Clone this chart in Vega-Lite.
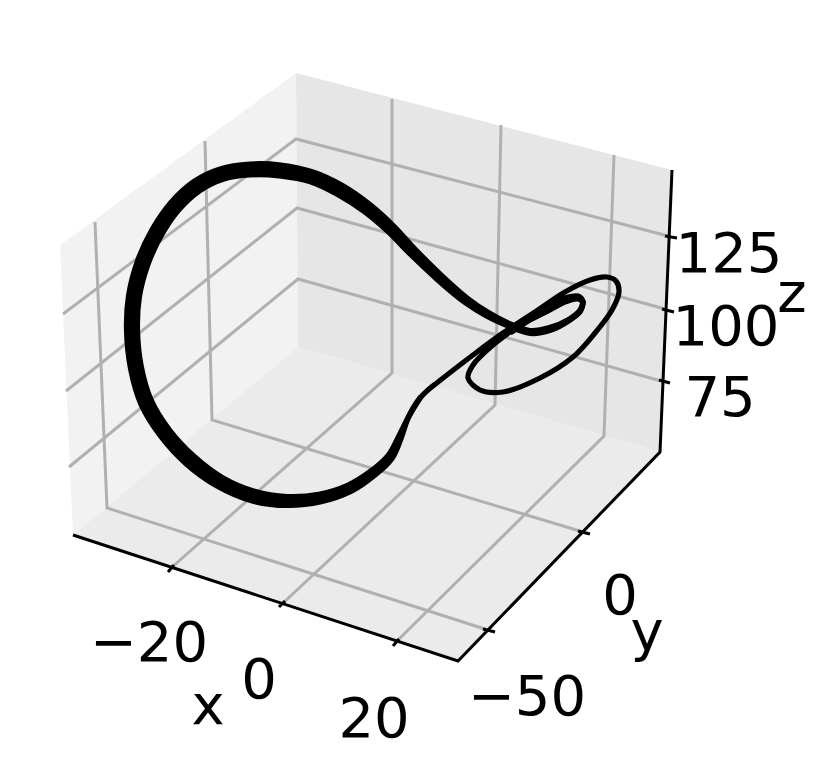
{"$schema":"https://vega.github.io/schema/vega-lite/v6.json","width":830,"height":771,"padding":0,"autosize":"none","background":"white","view":{"stroke":null},
"config":{"font":"DejaVu Sans"},
"encoding":{"x":{"field":"x","type":"quantitative","axis":null,"scale":{"domain":[0,830],"nice":false,"zero":false}},"y":{"field":"y","type":"quantitative","axis":null,"scale":{"domain":[771,0],"nice":false,"zero":false}}},
"datasets":{
"panes":[
{"p":"left","i":0,"x":60,"y":245},{"p":"left","i":1,"x":296,"y":73},{"p":"left","i":2,"x":298,"y":347},{"p":"left","i":3,"x":73,"y":535},{"p":"left","i":4,"x":60,"y":245},
{"p":"right","i":0,"x":296,"y":73},{"p":"right","i":1,"x":672,"y":170},{"p":"right","i":2,"x":660,"y":452},{"p":"right","i":3,"x":298,"y":347},{"p":"right","i":4,"x":296,"y":73},
{"p":"zfloor","i":0,"x":73,"y":535},{"p":"zfloor","i":1,"x":298,"y":347},{"p":"zfloor","i":2,"x":660,"y":452},{"p":"zfloor","i":3,"x":458,"y":661},{"p":"zfloor","i":4,"x":73,"y":535}],
"grid":[
{"g":"x-20","i":0,"x":392,"y":99},{"g":"x-20","i":1,"x":392,"y":373},{"g":"x-20","i":2,"x":171,"y":568},
{"g":"x0","i":0,"x":501,"y":125},{"g":"x0","i":1,"x":495,"y":405},{"g":"x0","i":2,"x":282,"y":604},
{"g":"x20","i":0,"x":614,"y":155},{"g":"x20","i":1,"x":604,"y":436},{"g":"x20","i":2,"x":396,"y":642},
{"g":"y-50","i":0,"x":95,"y":222},{"g":"y-50","i":1,"x":107,"y":508},{"g":"y-50","i":2,"x":488,"y":630},
{"g":"y0","i":0,"x":205,"y":141},{"g":"y0","i":1,"x":212,"y":420},{"g":"y0","i":2,"x":583,"y":532},
{"g":"z125","i":0,"x":63,"y":314},{"g":"z125","i":1,"x":296,"y":139},{"g":"z125","i":2,"x":668,"y":236},
{"g":"z100","i":0,"x":66,"y":391},{"g":"z100","i":1,"x":297,"y":208},{"g":"z100","i":2,"x":665,"y":309},
{"g":"z75","i":0,"x":69,"y":467},{"g":"z75","i":1,"x":298,"y":279},{"g":"z75","i":2,"x":661,"y":381}],
"axes":[
{"g":"xaxis","i":0,"x":73,"y":535},{"g":"xaxis","i":1,"x":458,"y":661},{"g":"xaxis","i":2,"x":660,"y":452},{"g":"xaxis","i":3,"x":672,"y":170},
{"g":"t1","i":0,"x":168,"y":572},{"g":"t1","i":1,"x":174,"y":565},
{"g":"t2","i":0,"x":279,"y":607},{"g":"t2","i":1,"x":285,"y":601},
{"g":"t3","i":0,"x":393,"y":646},{"g":"t3","i":1,"x":399,"y":639},
{"g":"t4","i":0,"x":483,"y":629},{"g":"t4","i":1,"x":495,"y":632},
{"g":"t5","i":0,"x":578,"y":531},{"g":"t5","i":1,"x":590,"y":534},
{"g":"t6","i":0,"x":665,"y":236},{"g":"t6","i":1,"x":677,"y":238},
{"g":"t7","i":0,"x":662,"y":309},{"g":"t7","i":1,"x":674,"y":312},
{"g":"t8","i":0,"x":659,"y":380},{"g":"t8","i":1,"x":670,"y":383}],
"orbits":[
{"g":"c","i":0,"x":517,"y":327},{"g":"c","i":1,"x":545,"y":307},{"g":"c","i":2,"x":565,"y":298},{"g":"c","i":3,"x":578,"y":296},{"g":"c","i":4,"x":583,"y":302},{"g":"c","i":4.5,"x":580,"y":311},
{"g":"c","i":5,"x":569,"y":320},{"g":"c","i":6,"x":550,"y":329},{"g":"c","i":7,"x":530,"y":332},{"g":"c","i":8,"x":507,"y":324},{"g":"c","i":9,"x":487,"y":314},{"g":"c","i":10,"x":467,"y":301},{"g":"c","i":11,"x":440,"y":278},{"g":"c","i":12,"x":413,"y":252},{"g":"c","i":13,"x":390,"y":228},{"g":"c","i":14,"x":367,"y":208},{"g":"c","i":15,"x":340,"y":190},{"g":"c","i":16,"x":312,"y":177},{"g":"c","i":17,"x":280,"y":170.5},{"g":"c","i":18,"x":250,"y":169.5},{"g":"c","i":19,"x":222,"y":174},{"g":"c","i":20,"x":197,"y":186},{"g":"c","i":21,"x":175,"y":206},{"g":"c","i":22,"x":157,"y":232},{"g":"c","i":23,"x":143,"y":262},{"g":"c","i":24,"x":134,"y":296},{"g":"c","i":25,"x":132,"y":330},{"g":"c","i":26,"x":136,"y":368},{"g":"c","i":27,"x":146,"y":402},{"g":"c","i":28,"x":165,"y":433},{"g":"c","i":29,"x":190,"y":460},{"g":"c","i":30,"x":220,"y":482},{"g":"c","i":31,"x":253,"y":496},{"g":"c","i":32,"x":287,"y":501},{"g":"c","i":33,"x":320,"y":498},{"g":"c","i":34,"x":350,"y":488},{"g":"c","i":35,"x":373,"y":473},{"g":"c","i":36,"x":390,"y":457},{"g":"c","i":37,"x":400,"y":437},{"g":"c","i":38,"x":408,"y":418},{"g":"c","i":38.5,"x":413,"y":408},{"g":"c","i":39,"x":420,"y":398},{"g":"c","i":39.5,"x":428,"y":390},{"g":"c","i":40,"x":438,"y":382},{"g":"c","i":41,"x":473,"y":355},{"g":"c","i":42,"x":503,"y":333},{"g":"c","i":43,"x":535,"y":312},{"g":"c","i":44,"x":565,"y":292},{"g":"c","i":45,"x":590,"y":280},{"g":"c","i":46,"x":607,"y":277},{"g":"c","i":47,"x":616,"y":281},{"g":"c","i":48,"x":619,"y":292},{"g":"c","i":49,"x":612,"y":310},{"g":"c","i":50,"x":595,"y":333},{"g":"c","i":51,"x":573,"y":357},{"g":"c","i":52,"x":540,"y":378},{"g":"c","i":53,"x":503,"y":392},{"g":"c","i":54,"x":480,"y":390},{"g":"c","i":55,"x":468,"y":378},{"g":"c","i":56,"x":473,"y":365},{"g":"c","i":57,"x":493,"y":345},{"g":"c","i":58,"x":517,"y":327},
{"g":"o","i":0,"x":583,"y":302},{"g":"o","i":0.5,"x":579.6,"y":310.6},{"g":"o","i":1,"x":568.6,"y":319.4},{"g":"o","i":2,"x":549.4,"y":327.6},{"g":"o","i":3,"x":530,"y":330.5},{"g":"o","i":4,"x":507.6,"y":322.6},{"g":"o","i":5,"x":488.1,"y":312.3},{"g":"o","i":6,"x":468.5,"y":299},{"g":"o","i":7,"x":442.1,"y":275.8},{"g":"o","i":8,"x":415.5,"y":249.5},{"g":"o","i":9,"x":392.8,"y":225.1},{"g":"o","i":10,"x":369.7,"y":204.4},{"g":"o","i":11,"x":342.5,"y":185.6},{"g":"o","i":12,"x":313.8,"y":172.3},{"g":"o","i":13,"x":280.8,"y":165},{"g":"o","i":14,"x":250,"y":164},{"g":"o","i":15,"x":220,"y":168.9},{"g":"o","i":16,"x":193.9,"y":181.4},{"g":"o","i":17,"x":171.1,"y":202.1},{"g":"o","i":18,"x":152.2,"y":229.2},{"g":"o","i":19,"x":137.8,"y":260.1},{"g":"o","i":20,"x":128.6,"y":295.1},{"g":"o","i":21,"x":126.5,"y":330},{"g":"o","i":22,"x":130.6,"y":369.1},{"g":"o","i":23,"x":140.9,"y":404.2},{"g":"o","i":24,"x":160.6,"y":436.3},{"g":"o","i":25,"x":186.2,"y":464},{"g":"o","i":26,"x":217.3,"y":486.3},{"g":"o","i":27,"x":251.5,"y":500.8},{"g":"o","i":28,"x":287,"y":505.5},{"g":"o","i":29,"x":321.2,"y":501.8},{"g":"o","i":30,"x":351.9,"y":491},{"g":"o","i":31,"x":375.1,"y":475.1},{"g":"o","i":32,"x":392.1,"y":458.4},{"g":"o","i":33,"x":401.4,"y":437.6},{"g":"o","i":34,"x":408.2,"y":418.1},{"g":"o","i":35,"x":420,"y":398},
{"g":"n","i":0,"x":583,"y":302},{"g":"n","i":0.5,"x":580.4,"y":311.4},{"g":"n","i":1,"x":569.4,"y":320.6},{"g":"n","i":2,"x":550.6,"y":330.4},{"g":"n","i":3,"x":530,"y":333.5},{"g":"n","i":4,"x":506.4,"y":325.4},{"g":"n","i":5,"x":485.9,"y":315.7},{"g":"n","i":6,"x":465.5,"y":303},{"g":"n","i":7,"x":437.9,"y":280.2},{"g":"n","i":8,"x":410.5,"y":254.5},{"g":"n","i":9,"x":387.2,"y":230.9},{"g":"n","i":10,"x":364.3,"y":211.6},{"g":"n","i":11,"x":337.5,"y":194.4},{"g":"n","i":12,"x":310.2,"y":181.7},{"g":"n","i":13,"x":279.2,"y":175.9},{"g":"n","i":14,"x":250,"y":175},{"g":"n","i":15,"x":224,"y":179.1},{"g":"n","i":16,"x":200.1,"y":190.6},{"g":"n","i":17,"x":178.9,"y":209.9},{"g":"n","i":18,"x":161.8,"y":234.8},{"g":"n","i":19,"x":148.2,"y":263.9},{"g":"n","i":20,"x":139.4,"y":296.9},{"g":"n","i":21,"x":137.5,"y":330},{"g":"n","i":22,"x":141.4,"y":366.9},{"g":"n","i":23,"x":151.1,"y":399.8},{"g":"n","i":24,"x":169.4,"y":429.7},{"g":"n","i":25,"x":193.8,"y":456},{"g":"n","i":26,"x":222.7,"y":477.7},{"g":"n","i":27,"x":254.5,"y":491.2},{"g":"n","i":28,"x":287,"y":496.5},{"g":"n","i":29,"x":318.8,"y":494.2},{"g":"n","i":30,"x":348.1,"y":485},{"g":"n","i":31,"x":370.9,"y":470.9},{"g":"n","i":32,"x":387.9,"y":455.6},{"g":"n","i":33,"x":398.6,"y":436.4},{"g":"n","i":34,"x":407.8,"y":417.9},{"g":"n","i":35,"x":420,"y":398},
{"g":"u","i":0,"x":512,"y":332},{"g":"u","i":1,"x":530,"y":320},{"g":"u","i":2,"x":548,"y":311},{"g":"u","i":3,"x":565,"y":302},{"g":"u","i":4,"x":578,"y":299},{"g":"u","i":5,"x":583,"y":302}],
"labels":[
{"t":"125","x":729,"y":272},{"t":"100","x":726,"y":345},{"t":"75","x":720,"y":416},{"t":"z","x":792,"y":312},
{"t":"−20","x":149,"y":661},{"t":"0","x":259,"y":698},{"t":"x","x":208,"y":724},{"t":"20","x":374,"y":737},
{"t":"−50","x":527,"y":715},{"t":"0","x":620,"y":614},{"t":"y","x":647,"y":650}]},
"layer":[
{"data":{"name":"panes"},"mark":{"type":"line","fill":"#f2f2f2","strokeWidth":0,"stroke":"transparent"},"transform":[{"filter":"datum.p==='left'"}],"encoding":{"order":{"field":"i","type":"quantitative"}}},
{"data":{"name":"panes"},"mark":{"type":"line","fill":"#e6e6e6","strokeWidth":0,"stroke":"transparent"},"transform":[{"filter":"datum.p==='right'"}],"encoding":{"order":{"field":"i","type":"quantitative"}}},
{"data":{"name":"panes"},"mark":{"type":"line","fill":"#ebebeb","strokeWidth":0,"stroke":"transparent"},"transform":[{"filter":"datum.p==='zfloor'"}],"encoding":{"order":{"field":"i","type":"quantitative"}}},
{"data":{"name":"grid"},"mark":{"type":"line","stroke":"#b0b0b0","strokeWidth":3},"encoding":{"detail":{"field":"g"},"order":{"field":"i","type":"quantitative"}}},
{"data":{"name":"axes"},"mark":{"type":"line","stroke":"black","strokeWidth":3},"encoding":{"detail":{"field":"g"},"order":{"field":"i","type":"quantitative"}}},
{"data":{"name":"orbits"},"mark":{"type":"line","stroke":"black","strokeWidth":5.2,"interpolate":"catmull-rom","strokeJoin":"round","strokeCap":"round"},"encoding":{"detail":{"field":"g"},"order":{"field":"i","type":"quantitative"}}},
{"data":{"name":"orbits"},"transform":[{"filter":"datum.g==='c' && datum.i>=9 && datum.i<=37"}],"mark":{"type":"line","stroke":"black","strokeWidth":7.5,"interpolate":"catmull-rom","strokeJoin":"round","strokeCap":"round"},"encoding":{"order":{"field":"i","type":"quantitative"}}},
{"data":{"name":"labels"},"mark":{"type":"text","fontSize":56,"align":"center","baseline":"alphabetic","color":"black","font":"DejaVu Sans"},"encoding":{"text":{"field":"t"}}}
]}
